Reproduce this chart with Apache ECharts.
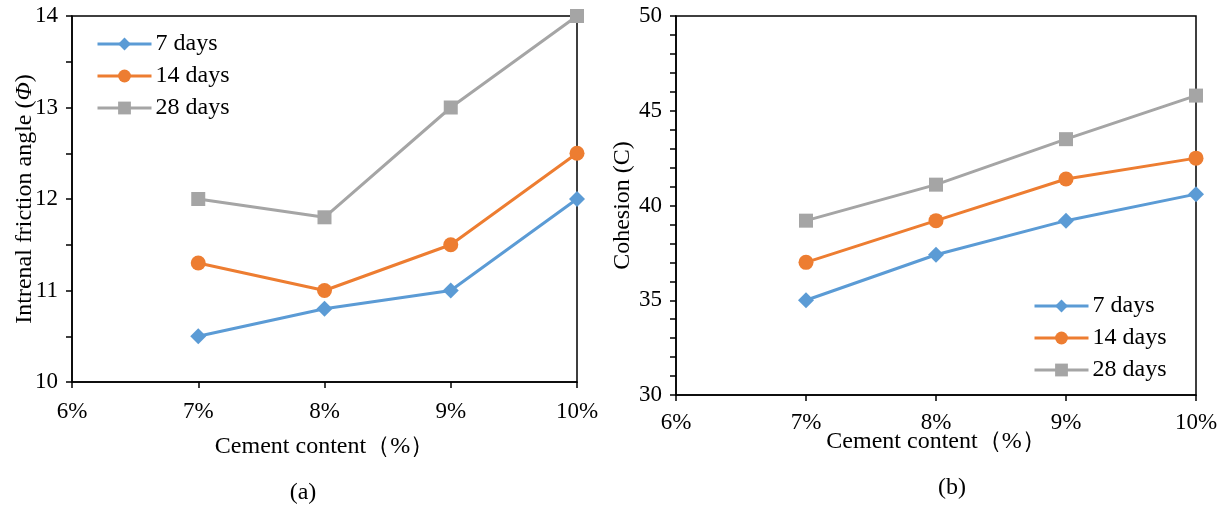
<!DOCTYPE html>
<html>
<head>
<meta charset="utf-8">
<script src="https://cdn.jsdelivr.net/npm/echarts@6/dist/echarts.min.js"></script>
<style>
html,body{margin:0;padding:0;background:#fff;}
#c{width:1225px;height:506px;}
</style>
</head>
<body>
<div id="c"></div>
<script>
const xValues = [7, 8, 9, 10];
const seriesNames = ['7 days', '14 days', '28 days'];
const frictionA7 = [10.5, 10.8, 11.0, 12.0];
const frictionA14 = [11.3, 11.0, 11.5, 12.5];
const frictionA28 = [12.0, 11.8, 13.0, 14.0];
const cohesion7 = [35.0, 37.4, 39.2, 40.6];
const cohesion14 = [37.0, 39.2, 41.4, 42.5];
const cohesion28 = [39.2, 41.1, 43.5, 45.8];
const colors = ['#5B9BD5', '#ED7D31', '#A5A5A5'];
const symbols = ['diamond', 'circle', 'rect'];
const symbolSizes = [16, 15, 14];

const FONT = '"Liberation Serif", "Times New Roman", serif';
const TICK_FS = 23;
const NAME_FS = 24;
const chart = echarts.init(document.getElementById('c'));

function pairs(vals){ return xValues.map((x,i)=>[x, vals[i]]); }

function mkSeries(data, axisIdx){
  return data.map((vals, i) => ({
    name: seriesNames[i],
    type: 'line',
    xAxisIndex: axisIdx, yAxisIndex: axisIdx,
    data: pairs(vals),
    symbol: symbols[i],
    symbolSize: symbolSizes[i],
    lineStyle: {color: colors[i], width: 3},
    itemStyle: {color: colors[i]},
    animation: false,
    z: 3 + (2 - i)
  }));
}

const xAxisCommon = {
  type: 'value', min: 6, max: 10, interval: 1,
  axisLine: {show: true, lineStyle: {color: '#000', width: 1.5}},
  axisTick: {show: true, inside: false, length: 6, lineStyle: {color: '#000', width: 1.5}},
  splitLine: {show: false},
  axisLabel: {formatter: '{value}%', color: '#000', fontFamily: FONT, fontSize: TICK_FS},
  name: 'Cement content（%）',
  nameLocation: 'middle',
  nameMoveOverlap: false,
  nameTextStyle: {color: '#000', fontFamily: FONT, fontSize: NAME_FS}
};

function mkLegend(left, top){
  return {
    data: seriesNames.map(n=>({name: n})),
    left: left, top: top, orient: 'vertical', itemGap: 8,
    itemWidth: 54, itemHeight: 16,
    lineStyle: {width: 3},
    textStyle: {fontFamily: FONT, fontSize: NAME_FS, color: '#000', padding: [0,0,0,-1]},
    selectedMode: false
  };
}

const option = {
  backgroundColor: '#fff',
  textStyle: {fontFamily: FONT},
  grid: [
    {left: 72, top: 16, width: 505, height: 366, show: true, borderColor: '#000', borderWidth: 1.5, containLabel: false},
    {left: 676, top: 16, width: 520, height: 379, show: true, borderColor: '#000', borderWidth: 1.5, containLabel: false}
  ],
  title: [
    {text: '(a)', left: 298, top: 476, textAlign: 'center', textStyle: {fontFamily: FONT, fontSize: NAME_FS, fontWeight: 'normal', color: '#000'}},
    {text: '(b)', left: 947, top: 471, textAlign: 'center', textStyle: {fontFamily: FONT, fontSize: NAME_FS, fontWeight: 'normal', color: '#000'}}
  ],
  legend: [mkLegend(91, 27), mkLegend(1028, 289)],
  xAxis: [
    Object.assign({}, xAxisCommon, {gridIndex: 0, nameGap: 53, axisLabel: Object.assign({}, xAxisCommon.axisLabel, {margin: 18})}),
    Object.assign({}, xAxisCommon, {gridIndex: 1, nameGap: 35, axisLabel: Object.assign({}, xAxisCommon.axisLabel, {margin: 16})})
  ],
  yAxis: [
    {
      gridIndex: 0, type: 'value', min: 10, max: 14, interval: 1,
      axisLine: {show: true, lineStyle: {color: '#000', width: 1.5}},
      axisTick: {show: true, inside: false, length: 6, lineStyle: {color: '#000', width: 1.5}},
      minorTick: {show: true, splitNumber: 2, length: 6, lineStyle: {color: '#000', width: 1.5}},
      splitLine: {show: false},
      axisLabel: {color: '#000', fontFamily: FONT, fontSize: TICK_FS, margin: 14},
      name: '{n|Intrenal friction angle (}{i|Φ}{n|)}',
      nameLocation: 'middle', nameGap: 35, nameRotate: 90, nameMoveOverlap: false,
      nameTextStyle: {
        color: '#000', fontFamily: FONT, fontSize: NAME_FS,
        rich: {n: {fontFamily: FONT, fontSize: NAME_FS, color: '#000'}, i: {fontFamily: FONT, fontSize: NAME_FS, fontStyle: 'italic', color: '#000'}}
      }
    },
    {
      gridIndex: 1, type: 'value', min: 30, max: 50, interval: 5,
      axisLine: {show: true, lineStyle: {color: '#000', width: 1.5}},
      axisTick: {show: true, inside: false, length: 6, lineStyle: {color: '#000', width: 1.5}},
      minorTick: {show: true, splitNumber: 5, length: 6, lineStyle: {color: '#000', width: 1.5}},
      splitLine: {show: false},
      axisLabel: {color: '#000', fontFamily: FONT, fontSize: TICK_FS, margin: 14},
      name: 'Cohesion (C)',
      nameLocation: 'middle', nameGap: 41, nameRotate: 90, nameMoveOverlap: false,
      nameTextStyle: {color: '#000', fontFamily: FONT, fontSize: NAME_FS}
    }
  ],
  series: [].concat(
    mkSeries([frictionA7, frictionA14, frictionA28], 0),
    mkSeries([cohesion7, cohesion14, cohesion28], 1)
  )
};
chart.setOption(option);
</script>
</body>
</html>
